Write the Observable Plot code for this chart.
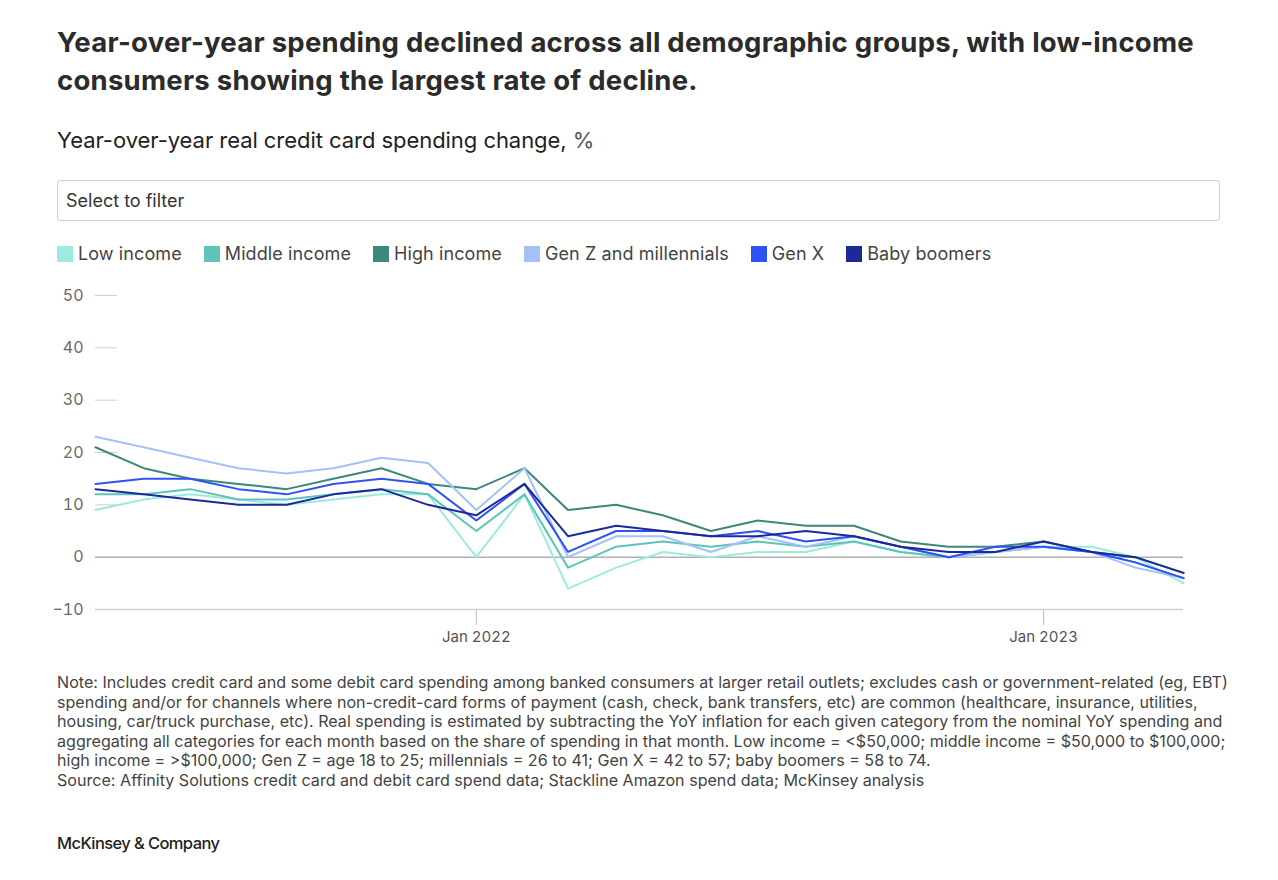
<!DOCTYPE html>
<html>
<head>
<meta charset="utf-8">
<script src="https://cdn.jsdelivr.net/npm/d3@7"></script>
<script src="https://cdn.jsdelivr.net/npm/@observablehq/plot@0.6"></script>
<style>
  html, body { margin: 0; padding: 0; background: #fff; }
  body { width: 1278px; height: 880px; position: relative; font-family: Inter, Roboto, "Noto Sans", sans-serif; color: #222; }
  .title { position: absolute; left: 57px; top: 23px; font-size: 27.5px; font-weight: 700; line-height: 38px; color: #2b2b2b; letter-spacing: 0.25px; }
  .subtitle { position: absolute; left: 57px; top: 127px; font-size: 22px; color: #222; letter-spacing: -0.05px; }
  .subtitle span { color: #555; }
  .filter { position: absolute; left: 57px; top: 180px; width: 1163px; height: 41px; border: 1px solid #cfcfcf; border-radius: 3px; box-sizing: border-box; font-size: 18px; color: #333; padding: 9px 8px; }
  .legend { position: absolute; left: 57px; top: 243px; display: flex; font-size: 18px; color: #444; letter-spacing: 0.1px; }
  .legend .item { display: flex; align-items: center; margin-right: 22px; }
  .legend .sw { width: 16px; height: 16px; margin-right: 5px; }
  #chart { position: absolute; left: 0; top: 280px; }
  .note { position: absolute; left: 57px; top: 673px; font-size: 16.1px; line-height: 19.5px; color: #444; letter-spacing: 0px; }
  .brand { position: absolute; left: 57px; top: 833px; font-size: 16.5px; font-weight: 500; color: #222; letter-spacing: -0.6px; }
</style>
</head>
<body>
<div class="title">Year-over-year spending declined across all demographic groups, with low-income<br>consumers showing the largest rate of decline.</div>
<div class="subtitle">Year-over-year real credit card spending change, <span>%</span></div>
<div class="filter">Select to filter</div>
<div class="legend" id="legend"></div>
<div id="chart"></div>
<div class="note">Note: Includes credit card and some debit card spending among banked consumers at larger retail outlets; excludes cash or government-related (eg, EBT)<br>spending and/or for channels where non-credit-card forms of payment (cash, check, bank transfers, etc) are common (healthcare, insurance, utilities,<br>housing, car/truck purchase, etc). Real spending is estimated by subtracting the YoY inflation for each given category from the nominal YoY spending and<br>aggregating all categories for each month based on the share of spending in that month. Low income = &lt;$50,000; middle income = $50,000 to $100,000;<br>high income = &gt;$100,000; Gen Z = age 18 to 25; millennials = 26 to 41; Gen X = 42 to 57; baby boomers = 58 to 74.<br>Source: Affinity Solutions credit card and debit card spend data; Stackline Amazon spend data; McKinsey analysis</div>
<div class="brand">McKinsey &amp; Company</div>
<script>
// Months: May 2021 – Apr 2023
const months = ["2021-05","2021-06","2021-07","2021-08","2021-09","2021-10","2021-11","2021-12",
  "2022-01","2022-02","2022-03","2022-04","2022-05","2022-06","2022-07","2022-08",
  "2022-09","2022-10","2022-11","2022-12","2023-01","2023-02","2023-03","2023-04"];

const seriesNames = ["Low income","Middle income","High income","Gen Z and millennials","Gen X","Baby boomers"];
const seriesColors = ["#9debe0","#5cc5b9","#3d877d","#a3c1f7","#2e52f3","#1b2a98"];

const lowIncome    = [9,11,12,11,10,11,12,12, 0,12,-6,-2,1,0,1,1, 3,1,0,1,2,2,0,-5];
const middleIncome = [12,12,13,11,11,12,13,12, 5,12,-2,2,3,2,3,2, 3,1,0,1,2,1,-1,-4];
const highIncome   = [21,17,15,14,13,15,17,14, 13,17,9,10,8,5,7,6, 6,3,2,2,3,1,0,-3];
const genZMill     = [23,21,19,17,16,17,19,18, 9,17,0,4,4,1,4,2, 4,2,0,1,2,1,-2,-4];
const genX         = [14,15,15,13,12,14,15,14, 7,14,1,5,5,4,5,3, 4,2,0,2,2,1,-1,-4];
const babyBoomers  = [13,12,11,10,10,12,13,10, 8,14,4,6,5,4,4,5, 4,2,1,1,3,1,0,-3];

const yTickValues = [-10,0,10,20,30,40,50];
const yShortTicks = [10,20,30,40,50];
const xTickLabels = ["2022-01","2023-01"];

const allSeries = [lowIncome, middleIncome, highIncome, genZMill, genX, babyBoomers];
const parse = d3.utcParse("%Y-%m");
const data = [];
seriesNames.forEach((name, i) => {
  allSeries[i].forEach((v, j) => data.push({series: name, date: parse(months[j]), value: v}));
});

// legend
const legend = document.getElementById("legend");
seriesNames.forEach((n, i) => {
  const it = document.createElement("div");
  it.className = "item";
  it.innerHTML = `<div class="sw" style="background:${seriesColors[i]}"></div><span>${n}</span>`;
  legend.appendChild(it);
});

const xTicks = xTickLabels.map(parse);

const chart = Plot.plot({
  width: 1278,
  height: 370,
  marginLeft: 95,
  marginRight: 95,
  marginTop: 15,
  marginBottom: 41,
  style: {fontFamily: "Inter, Roboto, 'Noto Sans', sans-serif", background: "transparent"},
  x: {type: "utc", domain: [parse(months[0]), parse(months[months.length - 1])], label: null},
  y: {domain: [-10, 50], label: null},
  color: {domain: seriesNames, range: seriesColors},
  marks: [
    Plot.axisY(yShortTicks, {tickSize: 22, dx: 22, tickFormat: () => "", color: "#cfcfcf", label: null}),
    Plot.axisY(yTickValues, {tickSize: 0, tickPadding: 12, fontSize: 16, color: "#6a6a6a", label: null}),
    Plot.ruleY([-10], {stroke: "#d0d0d0", strokeWidth: 1.5}),
    Plot.ruleY([0], {stroke: "#b0b0b0", strokeWidth: 1.5}),
    Plot.axisX(xTicks, {tickSize: 16, tickFormat: () => "", color: "#bbb", label: null}),
    Plot.axisX(xTicks, {tickSize: 0, tickPadding: 22, fontSize: 15, color: "#555", tickFormat: d3.utcFormat("%b %Y"), label: null}),
    Plot.line(data, {x: "date", y: "value", z: "series", stroke: "series", strokeWidth: 2})
  ]
});
document.getElementById("chart").appendChild(chart);
</script>
</body>
</html>
